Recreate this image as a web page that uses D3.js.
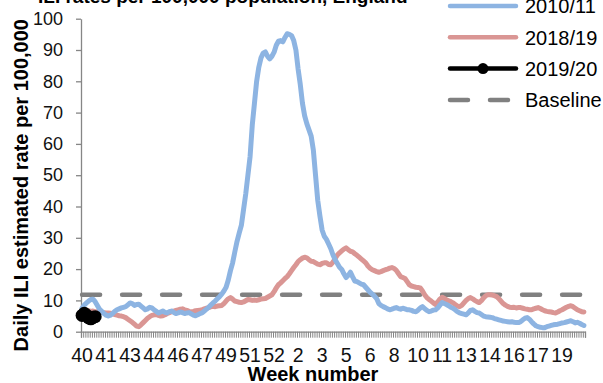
<!DOCTYPE html>
<meta charset="utf-8">
<style>

body {
  margin: 0;
  background: #fff;
}

svg text {
  font-family: "Liberation Sans", Arial, Helvetica, sans-serif;
}

</style>

<svg width="603" height="383"></svg>

<script src="https://d3js.org/d3.v7.min.js"></script>
<script>

// daily ILI rate per 100,000, one value per day from week 40 to week 20
var s2010 = [
  7.5, 8.5, 9.2, 9.8, 10.3, 10.4, 9.6, 8.4, 7.2, 6.5,
  5.8, 5.3, 5.0, 5.3, 5.8, 6.5, 7.0, 7.3, 7.6, 7.8,
  8.0, 8.6, 9.2, 9.0, 8.4, 8.7, 8.8, 8.2, 7.6, 7.0,
  7.3, 7.8, 7.6, 7.0, 6.5, 6.0, 6.3, 6.6, 6.2, 6.0,
  6.4, 6.6, 6.2, 5.8, 6.0, 6.3, 6.1, 5.8, 6.0, 6.1,
  5.7, 5.3, 5.1, 5.4, 5.8, 6.0, 6.6, 7.2, 7.8, 8.5,
  9.2, 9.8, 10.5, 11.2, 12.0, 13.0, 14.2, 16.5, 19.5, 22.0,
  25.5, 28.8, 31.5, 34.0, 39.0, 44.0, 50.0, 56.0, 66.0, 73.0,
  80.0, 84.5, 87.5, 89.0, 89.4, 88.0, 87.2, 88.0, 89.3, 91.5,
  92.8, 93.0, 92.6, 94.0, 95.2, 95.0, 94.6, 93.0, 90.0, 84.0,
  79.0, 73.0, 69.0, 66.5, 64.5, 62.5, 58.0, 50.0, 42.0, 37.0,
  32.5, 30.5, 29.5, 28.0, 26.5, 24.5, 23.0, 21.8, 20.6, 19.9,
  18.5, 17.3, 18.0, 19.0, 17.5, 16.2, 16.0, 15.6, 15.2, 15.0,
  14.2, 13.4, 12.6, 12.0, 11.4, 10.6, 9.0, 8.4, 8.0, 7.7,
  7.3, 7.0, 7.2, 7.5, 7.7, 7.4, 7.2, 7.5, 7.3, 7.0,
  7.0, 6.8, 6.5, 6.4, 6.9, 7.6, 8.0, 7.4, 6.8, 6.4,
  6.6, 6.9, 7.0, 7.6, 8.5, 9.3, 9.0, 8.7, 8.3, 7.8,
  7.5, 7.0, 6.4, 6.0, 5.8, 5.6, 5.4, 6.0, 6.8, 7.0,
  6.5, 6.1, 6.0, 5.5, 5.0, 4.8, 4.7, 4.6, 4.5, 4.2,
  4.0, 3.8, 3.6, 3.4, 3.3, 3.2, 3.1, 3.2, 3.0, 2.9,
  2.9, 3.2, 3.8, 4.3, 4.5, 4.0, 3.2, 2.5, 1.9, 1.6,
  1.4, 1.3, 1.3, 1.6, 1.8, 2.0, 2.2, 2.3, 2.4, 2.6,
  2.8, 2.9, 3.1, 3.3, 3.5, 3.2, 2.8, 3.0, 2.7, 2.3,
  2.0
];

var s2018 = [
  6.5, 6.6, 6.8, 6.7, 6.5, 6.6, 6.4, 6.4, 6.3, 6.2,
  6.1, 6.0, 6.0, 5.9, 5.7, 5.5, 5.3, 5.1, 5.0, 4.8,
  4.5, 4.0, 3.5, 3.0, 2.4, 1.8, 1.6, 2.2, 2.9, 3.6,
  4.3, 4.8, 5.2, 5.4, 5.5, 5.2, 5.0, 5.1, 5.4, 5.8,
  6.1, 6.4, 6.6, 6.8, 7.0, 7.2, 7.3, 7.0, 6.8, 6.5,
  6.4, 6.5, 6.7, 6.8, 6.9, 7.0, 7.3, 7.5, 7.7, 8.0,
  8.1, 8.0, 8.2, 8.3, 8.4, 9.0, 9.8, 10.5, 10.9, 10.4,
  9.8, 9.6, 9.4, 9.3, 9.5, 9.9, 10.3, 10.2, 10.0, 10.1,
  10.0, 10.2, 10.4, 10.5, 10.6, 11.0, 11.4, 11.8, 12.8, 14.0,
  15.0, 15.6, 16.3, 17.0, 17.6, 18.5, 19.5, 20.5, 21.4, 22.4,
  23.0, 23.5, 23.8, 23.6, 23.0, 22.5, 22.4, 22.0, 21.6, 21.4,
  21.8, 22.0, 22.0, 21.5, 21.4, 22.2, 23.4, 24.5, 25.2, 25.8,
  26.4, 26.8, 26.2, 25.7, 25.5, 24.9, 24.4, 23.8, 23.2, 22.6,
  22.0, 21.0, 20.3, 19.8, 19.5, 19.2, 19.0, 19.2, 19.5, 19.8,
  20.0, 20.3, 20.5, 20.2, 19.6, 18.6, 17.6, 17.3, 17.0, 16.0,
  15.0, 14.6, 14.4, 14.2, 14.1, 14.0, 13.0, 11.8, 10.9, 10.3,
  9.8, 9.2, 8.7, 9.5, 10.4, 11.0, 10.6, 10.2, 9.9, 9.6,
  9.2, 8.7, 8.2, 8.0, 8.4, 9.2, 10.0, 10.6, 10.9, 10.5,
  10.0, 9.6, 9.3, 9.9, 10.8, 11.5, 11.8, 11.8, 11.7, 11.5,
  11.2, 10.6, 9.8, 9.0, 8.5, 8.1, 7.8, 7.7, 7.8, 7.6,
  7.7, 7.7, 7.5, 7.3, 7.2, 7.0, 7.0, 7.3, 7.5, 7.7,
  7.4, 7.0, 6.7, 6.5, 6.4, 6.3, 6.1, 6.0, 6.3, 6.7,
  7.0, 7.4, 7.8, 8.1, 8.3, 8.0, 7.5, 7.0, 6.7, 6.4,
  6.3
];

var s2019 = [5.2, 5.9, 5.3, 4.4, 4.1, 4.6, 4.8];

var baselineValue = 11.8;

// one label every 11 days
var weekLabels = ["40", "41", "43", "44", "46", "47", "49", "51", "52", "2", "3",
                  "5", "6", "8", "10", "11", "13", "14", "16", "17", "19"];
var labelEvery = 11;
var nDays = s2010.length;

var yTicks = [0, 10, 20, 30, 40, 50, 60, 70, 80, 90, 100];

var colBlue = "#8db4e2",
    colPink = "#da9694",
    colGrey = "#808080",
    colAxis = "#868686";

var svg = d3.select("svg"),
    margin = {top: 18.7, left: 81},
    width = 504,
    height = 313,
    g = svg.append("g").attr("transform", "translate(" + margin.left + "," + margin.top + ")");

var days = d3.range(nDays);

var x = d3.scaleBand()
    .domain(days)
    .range([0, width]);

var y = d3.scaleLinear()
    .domain([0, 100])
    .range([height, 0]);

function cx(i) { return x(i) + x.bandwidth() / 2; }

// y axis
var yAxis = g.append("g")
    .call(d3.axisLeft(y).tickValues(yTicks).tickSize(5).tickPadding(13).tickSizeOuter(0));
yAxis.select(".domain").attr("stroke", colAxis).attr("stroke-width", 1.3);
yAxis.selectAll(".tick line").attr("stroke", colAxis).attr("stroke-width", 1.3);
yAxis.selectAll(".tick text")
    .attr("fill", "#111")
    .style("font-size", "18px");

// x axis: tick marks on every day boundary
var xEdge = d3.scaleLinear().domain([0, nDays]).range([0, width]);
var xTicks = g.append("g")
    .attr("transform", "translate(0," + height + ")")
    .call(d3.axisBottom(xEdge).tickValues(d3.range(nDays + 1)).tickSize(6).tickFormat(""));
xTicks.select(".domain").attr("stroke", colAxis).attr("stroke-width", 1.3);
xTicks.selectAll(".tick line").attr("stroke", colAxis).attr("stroke-width", 1);

// x labels
var xLab = g.append("g")
    .attr("transform", "translate(0," + height + ")")
    .call(d3.axisBottom(x)
        .tickValues(days.filter(function(d) { return d % labelEvery === 0; }))
        .tickFormat(function(d) { return weekLabels[d / labelEvery]; })
        .tickSize(0)
        .tickPadding(16));
xLab.select(".domain").remove();
xLab.selectAll(".tick text")
    .attr("fill", "#111")
    .style("font-size", "19.5px");

var line = d3.line()
    .x(function(d, i) { return cx(i); })
    .y(function(d) { return y(d); });

// baseline
g.append("line")
    .attr("x1", cx(0))
    .attr("x2", cx(nDays - 1))
    .attr("y1", y(baselineValue))
    .attr("y2", y(baselineValue))
    .attr("stroke", colGrey)
    .attr("stroke-width", 4.5)
    .attr("stroke-dasharray", "18,22")
    .attr("stroke-linecap", "round");

g.append("path")
    .datum(s2018)
    .attr("fill", "none")
    .attr("stroke", colPink)
    .attr("stroke-width", 5)
    .attr("stroke-linejoin", "round")
    .attr("stroke-linecap", "round")
    .attr("d", line);

g.append("path")
    .datum(s2010)
    .attr("fill", "none")
    .attr("stroke", colBlue)
    .attr("stroke-width", 5)
    .attr("stroke-linejoin", "round")
    .attr("stroke-linecap", "round")
    .attr("d", line);

g.append("path")
    .datum(s2019)
    .attr("fill", "none")
    .attr("stroke", "#000")
    .attr("stroke-width", 5)
    .attr("stroke-linejoin", "round")
    .attr("d", line);

g.selectAll(".dot")
  .data(s2019)
  .enter().append("circle")
    .attr("class", "dot")
    .attr("cx", function(d, i) { return cx(i); })
    .attr("cy", function(d) { return y(d); })
    .attr("r", 6.5)
    .attr("fill", "#000");

// axis titles
svg.append("text")
    .attr("transform", "translate(28," + (margin.top + height / 2 + 10) + ") rotate(-90)")
    .attr("text-anchor", "middle")
    .style("font-size", "20px")
    .style("font-weight", "bold")
    .text("Daily ILI estimated rate per 100,000");

svg.append("text")
    .attr("x", 313)
    .attr("y", 381)
    .attr("text-anchor", "middle")
    .style("font-size", "20px")
    .style("font-weight", "bold")
    .text("Week number");

// title, cut off at the top edge
svg.append("text")
    .attr("x", 38)
    .attr("y", 3)
    .style("font-size", "19px")
    .style("font-weight", "bold")
    .text("ILI rates per 100,000 population, England");

// legend
var legend = [
  {name: "2010/11", color: colBlue, dash: null, dot: false},
  {name: "2018/19", color: colPink, dash: null, dot: false},
  {name: "2019/20", color: "#000", dash: null, dot: true},
  {name: "Baseline", color: colGrey, dash: "18,22", dot: false}
];

var lg = svg.selectAll(".legend")
  .data(legend)
  .enter().append("g")
    .attr("class", "legend")
    .attr("transform", function(d, i) { return "translate(450," + (6 + i * 31.3) + ")"; });

lg.append("line")
    .attr("x1", 0)
    .attr("x2", 66)
    .attr("stroke", function(d) { return d.color; })
    .attr("stroke-width", 4.5)
    .attr("stroke-linecap", "round")
    .attr("stroke-dasharray", function(d) { return d.dash; });

lg.filter(function(d) { return d.dot; }).append("circle")
    .attr("cx", 33)
    .attr("r", 5.5)
    .attr("fill", "#000");

lg.append("text")
    .attr("x", 75)
    .attr("dy", "0.36em")
    .style("font-size", "20px")
    .text(function(d) { return d.name; });

</script>
